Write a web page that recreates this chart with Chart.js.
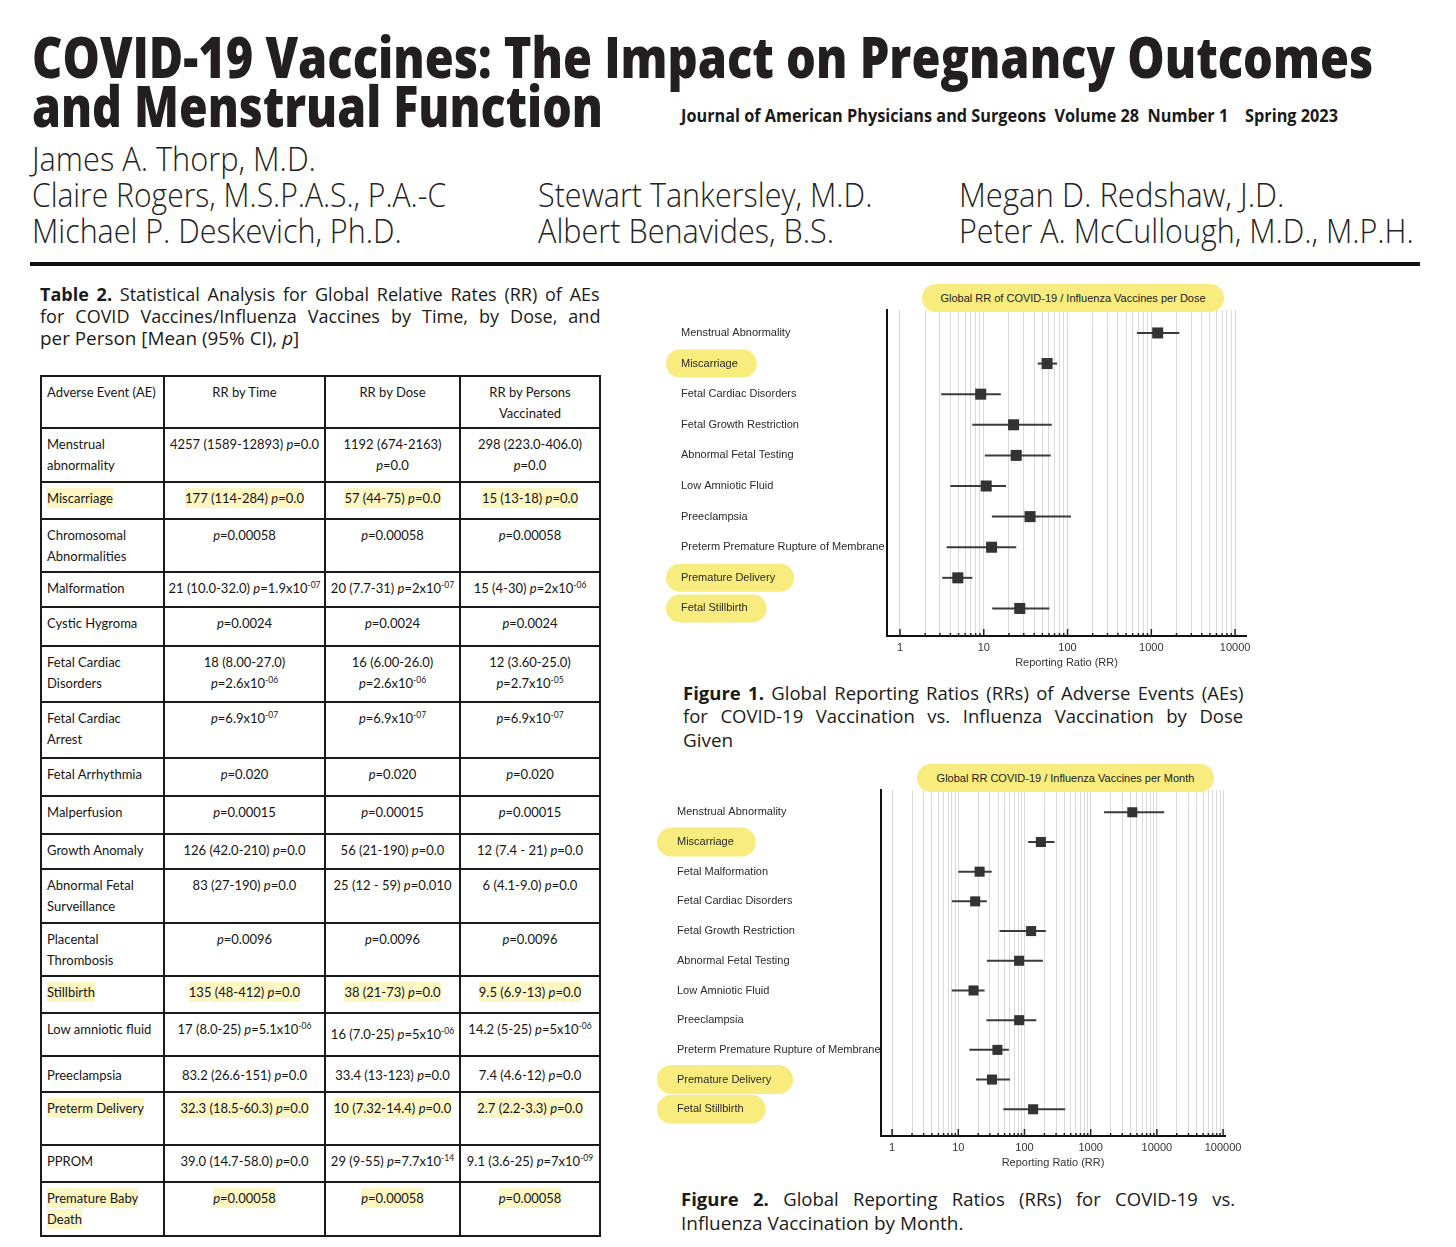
<!DOCTYPE html>
<html>
<head>
<meta charset="utf-8">
<script src="https://cdn.jsdelivr.net/npm/chart.js@4.4.0/dist/chart.umd.min.js"></script>
<style>
  html, body { margin: 0; padding: 0; background: #fff; }
  body { width: 1456px; height: 1247px; position: relative; overflow: hidden; font-family: "Open Sans", sans-serif; color: #1a1a1a; }
  .ln { position: absolute; white-space: pre; display: inline-block; transform-origin: 0 0; line-height: 1.2; }
  .title { font-size: 56px; font-weight: 800; color: #231f20; }
  .journal { font-size: 17px; font-weight: 700; }
  .author { font-size: 33px; font-weight: 300; color: #222; }
  .cap { font-size: 18px; }
  .figcap { font-size: 18.5px; }
  .rule { position: absolute; left: 30px; top: 262px; width: 1390px; height: 4px; background: #111; }
  .pill { position: absolute; height: 28px; border-radius: 14px; background: #f8ec7e; text-align: center;
          font: 11px "Liberation Sans", Arial, sans-serif; line-height: 28px; color: #222; z-index: 2; }
  canvas { position: absolute; }
  #tbl { position: absolute; left: 40px; top: 375px; display: grid; border-left: 2px solid #1a1a1a; border-top: 2px solid #1a1a1a;
         grid-template-columns: 123px 161px 135px 140px;
         grid-template-rows: 52px 54px 37px 53px 35px 39px 56px 56px 38px 38px 35px 54px 53px 37px 43px 36px 53px 37px 54px;
         font: 13px Lato, sans-serif; color: #151515; }
  #tbl div { box-sizing: border-box; border-right: 2px solid #1a1a1a; border-bottom: 2px solid #1a1a1a; padding: 5px 2px 0;
             line-height: 21px; white-space: nowrap; text-align: center; }
  #tbl div.c1 { text-align: left; padding-left: 5px; }
  #tbl sup { font-size: 8.5px; line-height: 0; vertical-align: 5px; }
  .hl { background: #fcf6c2; padding: 2px 0; }
</style>
</head>
<body>

<div class="ln title" style="left:32px;top:23px" data-w="1341">COVID-19 Vaccines: The Impact on Pregnancy Outcomes</div>
<div class="ln title" style="left:32px;top:72px" data-w="571">and Menstrual Function</div>
<div class="ln journal" style="left:681px;top:106px" data-w="657">Journal of American Physicians and Surgeons  Volume 28  Number 1    Spring 2023</div>

<div class="ln author" style="left:32px;top:139px" data-w="284">James A. Thorp, M.D.</div>
<div class="ln author" style="left:32px;top:175px" data-w="414">Claire Rogers, M.S.P.A.S., P.A.-C</div>
<div class="ln author" style="left:32px;top:211px" data-w="370">Michael P. Deskevich, Ph.D.</div>
<div class="ln author" style="left:538px;top:175px" data-w="334">Stewart Tankersley, M.D.</div>
<div class="ln author" style="left:538px;top:211px" data-w="296">Albert Benavides, B.S.</div>
<div class="ln author" style="left:959px;top:175px" data-w="325">Megan D. Redshaw, J.D.</div>
<div class="ln author" style="left:959px;top:211px" data-w="455">Peter A. McCullough, M.D., M.P.H.</div>
<div class="rule"></div>

<div class="ln cap" style="left:40px;top:284px" data-w="560" data-j="1"><b>Table 2.</b> Statistical Analysis for Global Relative Rates (RR) of AEs</div>
<div class="ln cap" style="left:40px;top:306px" data-w="560" data-j="1">for COVID Vaccines/Influenza Vaccines by Time, by Dose, and</div>
<div class="ln cap" style="left:40px;top:328px" data-w="259">per Person [Mean (95% CI), <i>p</i>]</div>

<div id="tbl">
  <div class="c1">Adverse Event (AE)</div><div>RR by Time</div><div>RR by Dose</div><div>RR by Persons<br>Vaccinated</div>
  <div class="c1">Menstrual<br>abnormality</div><div>4257 (1589-12893) <i>p</i>=0.0</div><div>1192 (674-2163)<br><i>p</i>=0.0</div><div>298 (223.0-406.0)<br><i>p</i>=0.0</div>
  <div class="c1"><span class="hl">Miscarriage</span></div><div><span class="hl">177 (114-284) <i>p</i>=0.0</span></div><div><span class="hl">57 (44-75) <i>p</i>=0.0</span></div><div><span class="hl">15 (13-18) <i>p</i>=0.0</span></div>
  <div class="c1">Chromosomal<br>Abnormalities</div><div><i>p</i>=0.00058</div><div><i>p</i>=0.00058</div><div><i>p</i>=0.00058</div>
  <div class="c1">Malformation</div><div>21 (10.0-32.0) <i>p</i>=1.9x10<sup>-07</sup></div><div>20 (7.7-31) <i>p</i>=2x10<sup>-07</sup></div><div>15 (4-30) <i>p</i>=2x10<sup>-06</sup></div>
  <div class="c1">Cystic Hygroma</div><div><i>p</i>=0.0024</div><div><i>p</i>=0.0024</div><div><i>p</i>=0.0024</div>
  <div class="c1">Fetal Cardiac<br>Disorders</div><div>18 (8.00-27.0)<br><i>p</i>=2.6x10<sup>-06</sup></div><div>16 (6.00-26.0)<br><i>p</i>=2.6x10<sup>-06</sup></div><div>12 (3.60-25.0)<br><i>p</i>=2.7x10<sup>-05</sup></div>
  <div class="c1">Fetal Cardiac<br>Arrest</div><div><i>p</i>=6.9x10<sup>-07</sup></div><div><i>p</i>=6.9x10<sup>-07</sup></div><div><i>p</i>=6.9x10<sup>-07</sup></div>
  <div class="c1">Fetal Arrhythmia</div><div><i>p</i>=0.020</div><div><i>p</i>=0.020</div><div><i>p</i>=0.020</div>
  <div class="c1">Malperfusion</div><div><i>p</i>=0.00015</div><div><i>p</i>=0.00015</div><div><i>p</i>=0.00015</div>
  <div class="c1">Growth Anomaly</div><div>126 (42.0-210) <i>p</i>=0.0</div><div>56 (21-190) <i>p</i>=0.0</div><div>12 (7.4 - 21) <i>p</i>=0.0</div>
  <div class="c1">Abnormal Fetal<br>Surveillance</div><div>83 (27-190) <i>p</i>=0.0</div><div>25 (12 - 59) <i>p</i>=0.010</div><div>6 (4.1-9.0) <i>p</i>=0.0</div>
  <div class="c1">Placental<br>Thrombosis</div><div><i>p</i>=0.0096</div><div><i>p</i>=0.0096</div><div><i>p</i>=0.0096</div>
  <div class="c1"><span class="hl">Stillbirth</span></div><div><span class="hl">135 (48-412) <i>p</i>=0.0</span></div><div><span class="hl">38 (21-73) <i>p</i>=0.0</span></div><div><span class="hl">9.5 (6.9-13) <i>p</i>=0.0</span></div>
  <div class="c1">Low amniotic fluid</div><div>17 (8.0-25) <i>p</i>=5.1x10<sup>-06</sup></div><div style="padding-top:10px">16 (7.0-25) <i>p</i>=5x10<sup>-06</sup></div><div>14.2 (5-25) <i>p</i>=5x10<sup>-06</sup></div>
  <div class="c1" style="padding-top:8px">Preeclampsia</div><div style="padding-top:8px">83.2 (26.6-151) <i>p</i>=0.0</div><div style="padding-top:8px">33.4 (13-123) <i>p</i>=0.0</div><div style="padding-top:8px">7.4 (4.6-12) <i>p</i>=0.0</div>
  <div class="c1"><span class="hl">Preterm Delivery</span></div><div><span class="hl">32.3 (18.5-60.3) <i>p</i>=0.0</span></div><div><span class="hl">10 (7.32-14.4) <i>p</i>=0.0</span></div><div><span class="hl">2.7 (2.2-3.3) <i>p</i>=0.0</span></div>
  <div class="c1">PPROM</div><div>39.0 (14.7-58.0) <i>p</i>=0.0</div><div>29 (9-55) <i>p</i>=7.7x10<sup>-14</sup></div><div>9.1 (3.6-25) <i>p</i>=7x10<sup>-09</sup></div>
  <div class="c1"><span class="hl">Premature Baby</span><br><span class="hl">Death</span></div><div><span class="hl"><i>p</i>=0.00058</span></div><div><span class="hl"><i>p</i>=0.00058</span></div><div><span class="hl"><i>p</i>=0.00058</span></div>
</div>

<div class="pill" style="left:922px;top:284px;width:302px">Global RR of COVID-19 / Influenza Vaccines per Dose</div>
<canvas id="doseChart" width="616" height="380" style="left:650px;top:300px"></canvas>
<div class="ln figcap" style="left:683px;top:682px" data-w="560" data-j="1"><b>Figure 1.</b> Global Reporting Ratios (RRs) of Adverse Events (AEs)</div>
<div class="ln figcap" style="left:683px;top:705px" data-w="560" data-j="1">for COVID-19 Vaccination vs. Influenza Vaccination by Dose</div>
<div class="ln figcap" style="left:683px;top:729px" data-w="50">Given</div>

<div class="pill" style="left:917px;top:764px;width:297px">Global RR COVID-19 / Influenza Vaccines per Month</div>
<canvas id="monthChart" width="605" height="400" style="left:645px;top:780px"></canvas>
<div class="ln figcap" style="left:681px;top:1188px" data-w="554" data-j="1"><b>Figure 2.</b> Global Reporting Ratios (RRs) for COVID-19 vs.</div>
<div class="ln figcap" style="left:681px;top:1212px" data-w="282">Influenza Vaccination by Month.</div>

<script>
// Figure 1: RR per dose
const doseCategories = ['Menstrual Abnormality', 'Miscarriage', 'Fetal Cardiac Disorders', 'Fetal Growth Restriction',
  'Abnormal Fetal Testing', 'Low Amniotic Fluid', 'Preeclampsia', 'Preterm Premature Rupture of Membrane',
  'Premature Delivery', 'Fetal Stillbirth'];
const doseRR   = [1192, 57, 9.2, 22.7, 24.4, 10.7, 35.7, 12.4, 4.9, 26.9];
const doseLow  = [674, 44, 3.1, 7.3, 10.3, 4.0, 12.5, 3.6, 3.2, 12.6];
const doseHigh = [2163, 75, 16, 65, 63, 18.4, 110, 24.4, 7.3, 60.7];
const doseTicks = [1, 10, 100, 1000, 10000];

// Figure 2: RR per month
const monthCategories = ['Menstrual Abnormality', 'Miscarriage', 'Fetal Malformation', 'Fetal Cardiac Disorders',
  'Fetal Growth Restriction', 'Abnormal Fetal Testing', 'Low Amniotic Fluid', 'Preeclampsia',
  'Preterm Premature Rupture of Membrane', 'Premature Delivery', 'Fetal Stillbirth'];
const monthRR   = [4257, 177, 21, 18, 126, 83, 17, 83.2, 39.0, 32.3, 135];
const monthLow  = [1589, 114, 10, 8, 42, 27, 8, 26.6, 14.7, 18.5, 48];
const monthHigh = [12893, 284, 32, 27, 210, 190, 25, 151, 58, 60.3, 412];
const monthTicks = [1, 10, 100, 1000, 10000, 100000];

const highlighted = ['Miscarriage', 'Premature Delivery', 'Fetal Stillbirth'];

const LABEL_FONT = '"Liberation Sans", Arial, sans-serif';

function gridValues(ticks) {
  const out = [];
  ticks.forEach((t, i) => {
    if (i === ticks.length - 1) { out.push(t); return; }
    for (let k = 1; k < 10; k++) out.push(t * k);
  });
  return out;
}

// yellow rounded marker behind some category labels
function pillPlugin(cats, pad) {
  return {
    id: 'pills',
    beforeDraw(chart) {
      const y = chart.scales.y, ctx = chart.ctx;
      ctx.save();
      ctx.font = '11px ' + LABEL_FONT;
      ctx.fillStyle = '#f8ec7e';
      cats.forEach((lab, i) => {
        if (!highlighted.includes(lab)) return;
        const cy = y.getPixelForValue(i);
        const w = ctx.measureText(lab).width;
        ctx.beginPath();
        ctx.roundRect(y.left - pad.l, cy - pad.h / 2, w + pad.l + pad.r, pad.h, pad.h / 2);
        ctx.fill();
      });
      ctx.restore();
    }
  };
}

// small tick marks pointing up into the plot
function innerTickPlugin(tickVals) {
  return {
    id: 'innerTicks',
    afterDraw(chart) {
      const x = chart.scales.x, ctx = chart.ctx, b = chart.chartArea.bottom;
      ctx.save();
      ctx.strokeStyle = '#222';
      ctx.lineWidth = 1.5;
      x.ticks.forEach(t => {
        const px = x.getPixelForValue(t.value);
        const len = tickVals.includes(t.value) ? 7 : 3;
        ctx.beginPath(); ctx.moveTo(px, b); ctx.lineTo(px, b - len); ctx.stroke();
      });
      ctx.restore();
    }
  };
}

function forest(id, cats, rr, lo, hi, tickVals, xmin, xmax, yw, padding, pill, markR) {
  const grid = gridValues(tickVals);
  const ciSets = cats.map((c, i) => ({
    data: [{ x: lo[i], y: i }, { x: hi[i], y: i }],
    showLine: true, borderColor: '#3b3b3b', borderWidth: 2, pointRadius: 0
  }));
  return new Chart(document.getElementById(id), {
    type: 'scatter',
    data: {
      datasets: [{
        data: rr.map((v, i) => ({ x: v, y: i })),
        pointStyle: 'rect', pointRadius: markR, backgroundColor: '#333', borderWidth: 0
      }, ...ciSets]
    },
    options: {
      responsive: false, animation: false, events: [],
      layout: { padding },
      plugins: { legend: { display: false }, tooltip: { enabled: false } },
      scales: {
        x: {
          type: 'logarithmic', min: xmin, max: xmax,
          afterBuildTicks: a => { a.ticks = grid.map(v => ({ value: v })); },
          afterFit: s => { s.height = 34; },
          grid: { color: '#dadada', lineWidth: 1, drawTicks: false },
          border: { color: '#111', width: 2 },
          ticks: {
            autoSkip: false, maxRotation: 0, padding: 5, color: '#333',
            font: { family: LABEL_FONT, size: 11 },
            callback: v => tickVals.includes(v) ? String(v) : ''
          },
          title: { display: true, text: 'Reporting Ratio (RR)', color: '#333',
                   font: { family: LABEL_FONT, size: 11 }, padding: { top: 0, bottom: 0 } }
        },
        y: {
          type: 'linear', reverse: true, min: -0.75, max: cats.length - 0.1,
          afterBuildTicks: a => { a.ticks = cats.map((c, i) => ({ value: i })); },
          afterFit: s => { s.width = yw; },
          grid: { color: 'rgba(0,0,0,0)', drawTicks: false },
          border: { color: '#111', width: 2 },
          ticks: {
            autoSkip: false, crossAlign: 'far', padding: 0, color: '#2a2a2a',
            font: { family: LABEL_FONT, size: 11 },
            callback: v => cats[v]
          }
        }
      }
    },
    plugins: [pillPlugin(cats, pill), innerTickPlugin(tickVals)]
  });
}

forest('doseChart', doseCategories, doseRR, doseLow, doseHigh, doseTicks, 0.74, 13500, 206,
  { left: 31, top: 10, right: 20, bottom: 10 }, { l: 15, r: 19, h: 28 }, 7.8);
forest('monthChart', monthCategories, monthRR, monthLow, monthHigh, monthTicks, 0.68, 107000, 204,
  { left: 32, top: 10, right: 25, bottom: 10 }, { l: 20, r: 22, h: 29 }, 7.1);

// squeeze or justify the text lines to the widths they have in the page
function fitLines() {
  document.querySelectorAll('.ln').forEach(el => {
    const w = +el.dataset.w, just = el.dataset.j === '1';
    const nat = el.offsetWidth;
    if (just && nat < w) {
      const n = (el.textContent.match(/ /g) || []).length;
      el.style.wordSpacing = ((w - nat) / n) + 'px';
    } else {
      el.style.transform = 'scaleX(' + (w / nat) + ')';
    }
  });
}
document.fonts.ready.then(fitLines);
</script>
</body>
</html>
